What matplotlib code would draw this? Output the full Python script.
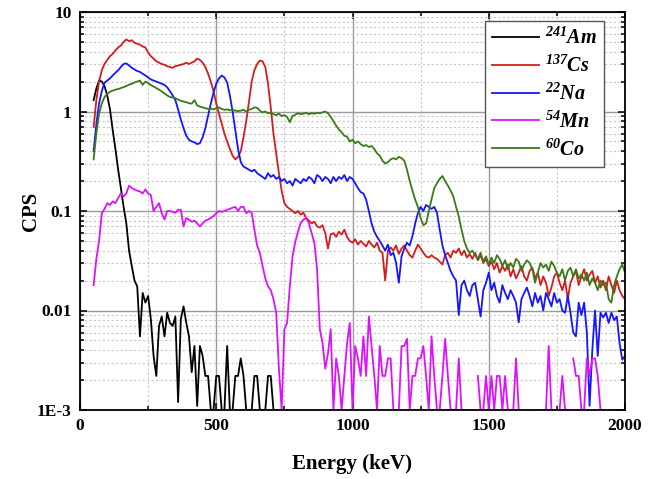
import numpy as np
import matplotlib
matplotlib.use('Agg')
import matplotlib.pyplot as plt
from matplotlib.ticker import FixedLocator, NullFormatter

plt.rcParams['font.family'] = ['Liberation Serif', 'DejaVu Serif']
plt.rcParams['font.weight'] = 'bold'
plt.rcParams['mathtext.fontset'] = 'custom'
plt.rcParams['mathtext.rm'] = 'Liberation Serif:italic:bold'
plt.rcParams['mathtext.it'] = 'Liberation Serif:italic:bold'

# channel energies (keV), 10 keV bins
energy = np.arange(50, 2001, 10)
energy_am = np.arange(50, 721, 10)

am241 = [
    1.3, 1.7, 2.05, 2.0, 1.8, 1.45, 1.05, 0.65, 0.42, 0.26,
    0.17, 0.11, 0.075, 0.04, 0.028, 0.02, 0.0175, 0.0055, 0.015, 0.012,
    0.014, 0.0082, 0.0035, 0.0022, 0.007, 0.0087, 0.0055, 0.0095, 0.0075, 0.007,
    0.0087, 0.0012, 0.0082, 0.011, 0.0075, 0.0055, 0.0024, 0.0044, 0.0011, 0.0044,
    0.0035, 0.0022, 0.0022, 0.001, 0.001, 0.0022, 0.0022, 0.001, 0.001, 0.0044,
    0.001, 0.001, 0.0022, 0.0022, 0.0033, 0.0022, 0.001, 0.001, 0.001, 0.0022,
    0.0022, 0.001, 0.001, 0.001, 0.0022, 0.0022, 0.001, 0.001,
]

cs137 = [
    0.70, 1.3, 2.0, 2.6, 3.0, 3.3, 3.6, 3.8, 4.1, 4.4,
    4.6, 5.0, 5.3, 5.1, 5.2, 4.9, 4.8, 4.7, 4.5, 4.4,
    3.9, 3.6, 3.4, 3.2, 3.1, 3.0, 2.95, 2.85, 2.8, 2.75,
    2.85, 2.9, 2.95, 3.0, 3.1, 3.0, 3.1, 3.2, 3.4, 3.3,
    3.1, 2.8, 2.4, 2.0, 1.6, 1.2, 0.95, 0.75, 0.6, 0.5,
    0.42, 0.36, 0.33, 0.35, 0.40, 0.55, 0.80, 1.25, 2.0, 2.6,
    3.0, 3.25, 3.2, 2.8, 1.9, 1.1, 0.6, 0.38, 0.24, 0.16,
    0.12, 0.11, 0.105, 0.10, 0.095, 0.10, 0.092, 0.096, 0.085, 0.08,
    0.075, 0.078, 0.07, 0.068, 0.072, 0.06, 0.042, 0.058, 0.06, 0.055,
    0.062, 0.058, 0.065, 0.055, 0.050, 0.048, 0.052, 0.046, 0.05, 0.047,
    0.044, 0.05, 0.046, 0.043, 0.048, 0.040, 0.038, 0.020, 0.040, 0.043,
    0.040, 0.045, 0.037, 0.042, 0.045, 0.040, 0.036, 0.034, 0.040, 0.046,
    0.042, 0.038, 0.035, 0.034, 0.036, 0.034, 0.033, 0.031, 0.029, 0.036,
    0.038, 0.034, 0.040, 0.038, 0.042, 0.036, 0.040, 0.034, 0.037, 0.033,
    0.038, 0.032, 0.036, 0.030, 0.033, 0.028, 0.031, 0.026, 0.030, 0.024,
    0.028, 0.025, 0.029, 0.022, 0.026, 0.021, 0.024, 0.028, 0.022, 0.020,
    0.025, 0.027, 0.021, 0.024, 0.018, 0.022, 0.019, 0.014, 0.017, 0.022,
    0.024, 0.019, 0.016, 0.020, 0.013, 0.019, 0.022, 0.025, 0.018, 0.022,
    0.026, 0.020, 0.023, 0.025, 0.019, 0.022, 0.017, 0.020, 0.016, 0.022,
    0.018, 0.015, 0.020, 0.016, 0.014, 0.013,
]

na22 = [
    0.40, 0.75, 1.2, 1.6, 1.95, 2.05, 2.15, 2.3, 2.45, 2.6,
    2.8, 3.0, 3.05, 2.9, 2.75, 2.65, 2.55, 2.5, 2.4, 2.3,
    2.2, 2.1, 2.05, 2.0, 1.95, 1.9, 1.85, 1.75, 1.6, 1.45,
    1.3, 1.05, 0.83, 0.68, 0.57, 0.52, 0.50, 0.49, 0.47, 0.48,
    0.55, 0.68, 0.9, 1.2, 1.55, 1.9, 2.15, 2.3, 2.2, 1.95,
    1.45, 1.0, 0.65, 0.42, 0.31, 0.28, 0.27, 0.26, 0.25, 0.26,
    0.24, 0.23, 0.22, 0.21, 0.24, 0.22, 0.23, 0.21, 0.22, 0.20,
    0.21, 0.19, 0.20, 0.18, 0.21, 0.20, 0.19, 0.21, 0.20, 0.22,
    0.21, 0.19, 0.23, 0.22, 0.20, 0.22, 0.21, 0.19, 0.22, 0.20,
    0.22, 0.21, 0.23, 0.20, 0.22, 0.21, 0.19, 0.17, 0.155, 0.15,
    0.13, 0.10, 0.075, 0.062, 0.055, 0.05, 0.045, 0.04, 0.046, 0.036,
    0.038, 0.030, 0.019, 0.035, 0.042, 0.048, 0.045, 0.056, 0.075, 0.095,
    0.11, 0.10, 0.115, 0.11, 0.105, 0.11, 0.096, 0.065, 0.045, 0.036,
    0.03, 0.025, 0.022, 0.02, 0.009, 0.018, 0.02, 0.016, 0.014, 0.018,
    0.019, 0.013, 0.0087, 0.016, 0.019, 0.024, 0.016, 0.019, 0.014, 0.012,
    0.018, 0.015, 0.013, 0.016, 0.014, 0.012, 0.0076, 0.013, 0.015, 0.017,
    0.014, 0.011, 0.015, 0.012, 0.014, 0.010, 0.015, 0.013, 0.011, 0.015,
    0.012, 0.013, 0.010, 0.0095, 0.014, 0.0095, 0.006, 0.0055, 0.012, 0.009,
    0.012, 0.006, 0.0011, 0.004, 0.010, 0.0035, 0.0095, 0.0085, 0.0095, 0.0075,
    0.0095, 0.008, 0.0087, 0.0047, 0.0032, 0.0035,
]

mn54 = [
    0.018, 0.033, 0.05, 0.095, 0.105, 0.12, 0.115, 0.125, 0.12, 0.135,
    0.15, 0.14, 0.15, 0.18, 0.17, 0.165, 0.16, 0.157, 0.15, 0.165,
    0.15, 0.145, 0.10, 0.11, 0.12, 0.095, 0.082, 0.1, 0.1, 0.098,
    0.096, 0.103, 0.103, 0.07, 0.085, 0.082, 0.078, 0.08, 0.075, 0.07,
    0.075, 0.08, 0.082, 0.085, 0.089, 0.095, 0.1, 0.098, 0.1, 0.103,
    0.105, 0.108, 0.11, 0.1, 0.11, 0.11, 0.095, 0.1, 0.096, 0.065,
    0.045, 0.038, 0.028, 0.021, 0.0175, 0.016, 0.013, 0.0095, 0.0026, 0.001,
    0.0065, 0.0075, 0.0175, 0.035, 0.049, 0.062, 0.076, 0.082, 0.085, 0.075,
    0.06, 0.048, 0.026, 0.0065, 0.0047, 0.0026, 0.0037, 0.0065, 0.001, 0.0033,
    0.0022, 0.001, 0.0022, 0.0047, 0.0075, 0.001, 0.0044, 0.0033, 0.0022, 0.0055,
    0.0022, 0.0087, 0.0044, 0.0022, 0.001, 0.0044, 0.0022, 0.0022, 0.0033, 0.0033,
    0.001, 0.001, 0.001, 0.0044, 0.0044, 0.0052, 0.001, 0.0022, 0.0022, 0.0033,
    0.0033, 0.0044, 0.0022, 0.001, 0.0055, 0.0022, 0.001, 0.001, 0.0022, 0.0052,
    0.0022, 0.001, 0.001, 0.001, 0.0033, 0.001, 0.001, 0, 0.001, 0.001,
    0, 0.0022, 0.001, 0.001, 0.0022, 0.001, 0.0022, 0.001, 0.0022, 0.0022,
    0.001, 0.0022, 0.001, 0.001, 0.001, 0.0033, 0.001, 0, 0, 0,
    0.0022, 0, 0.0022, 0, 0, 0.001, 0.001, 0.0044, 0.001, 0.001,
    0, 0.001, 0.0022, 0.001, 0.001, 0, 0.0033, 0.0022, 0.0022, 0.001,
    0.001, 0.0033, 0.0022, 0.0033, 0.0033, 0.0022, 0.001, 0.001, 0, 0.001,
    0.001, 0.001, 0.001, 0.001, 0.001, 0.001,
]

co60 = [
    0.33, 0.60, 0.95, 1.2, 1.4, 1.5, 1.58, 1.62, 1.66, 1.68,
    1.72, 1.76, 1.80, 1.86, 1.9, 1.96, 2.0, 2.05, 1.85, 2.0,
    1.93, 1.85, 1.78, 1.72, 1.66, 1.59, 1.52, 1.45, 1.40, 1.38,
    1.36, 1.32, 1.28, 1.26, 1.24, 1.21, 1.2, 1.3, 1.15, 1.12,
    1.10, 1.08, 1.06, 1.07, 1.05, 1.08, 1.10, 1.06, 1.04, 1.05,
    1.03, 1.04, 1.02, 1.01, 1.02, 1.04, 1.0, 1.04, 1.06, 1.1,
    1.09, 1.02, 0.98, 1.0, 0.96, 0.97, 0.94, 0.92, 0.95, 0.90,
    0.92, 0.88, 0.78, 0.90, 0.93, 0.96, 0.94, 0.95, 0.97, 0.94,
    0.96, 0.95, 0.97, 0.96, 0.98, 1.0, 0.96, 0.88, 0.80, 0.72,
    0.66, 0.62, 0.57, 0.56, 0.50, 0.52, 0.48, 0.50, 0.47, 0.45,
    0.46, 0.44, 0.45, 0.42, 0.38, 0.36, 0.32, 0.30, 0.31, 0.33,
    0.34, 0.33, 0.35, 0.34, 0.32, 0.26, 0.20, 0.16, 0.13, 0.11,
    0.085, 0.072, 0.075, 0.10, 0.13, 0.17, 0.19, 0.21, 0.225, 0.20,
    0.18, 0.16, 0.14, 0.11, 0.088, 0.065, 0.05, 0.042, 0.038, 0.040,
    0.036, 0.033, 0.038, 0.031, 0.035, 0.029, 0.034, 0.030, 0.036, 0.033,
    0.028, 0.032, 0.026, 0.030, 0.027, 0.033, 0.031, 0.025, 0.029, 0.032,
    0.030, 0.026, 0.019, 0.024, 0.030, 0.027, 0.029, 0.025, 0.031, 0.028,
    0.024, 0.022, 0.026, 0.020, 0.025, 0.027, 0.022, 0.026, 0.021, 0.023,
    0.020, 0.024, 0.018, 0.021, 0.019, 0.016, 0.020, 0.018, 0.019, 0.013,
    0.012, 0.018, 0.022, 0.026, 0.029, 0.024,
]

series = [
    (energy_am, am241, r'$^{241}Am$', 'black'),
    (energy, cs137, r'$^{137}Cs$', '#d41c1c'),
    (energy, na22, r'$^{22}Na$', '#1515ff'),
    (energy, mn54, r'$^{54}Mn$', '#dd11ff'),
    (energy, co60, r'$^{60}Co$', '#3b7a18'),
]

fig = plt.figure(figsize=(6.54, 4.79), dpi=100)
ax = fig.add_axes([80 / 654, 1 - 410 / 479, 545 / 654, 398 / 479])

for e, vals, label, color in series:
    v = np.asarray(vals, dtype=float)
    v = np.where(v > 0, v, np.nan)
    ax.plot(e, v, color=color, lw=1.3, label=label)

ax.set_yscale('log')
ax.set_xlim(0, 2000)
ax.set_ylim(1e-3, 10)

ax.xaxis.set_major_locator(FixedLocator([0, 500, 1000, 1500, 2000]))
ax.xaxis.set_minor_locator(FixedLocator([250, 750, 1250, 1750]))
ax.set_yticks([1e-3, 1e-2, 1e-1, 1, 10])
ax.set_yticklabels(['1E-3', '0.01', '0.1', '1', '10'])
ax.yaxis.set_minor_locator(FixedLocator(
    [m * 10.0 ** k for k in range(-3, 1) for m in range(2, 10)]))
ax.yaxis.set_minor_formatter(NullFormatter())

ax.grid(which='major', color='#9a9a9a', lw=1.0, ls='-')
ax.grid(which='minor', color='#c8c8c8', lw=0.8, ls=(0, (2, 2)))
ax.set_axisbelow(True)

ax.tick_params(which='both', direction='in', top=True, right=True,
               labelsize=12.5, width=1.1, pad=6)
ax.tick_params(which='major', length=5)
ax.tick_params(which='minor', length=3)
for s in ax.spines.values():
    s.set_linewidth(1.3)

ax.set_xlabel('Energy (keV)', fontsize=15, fontweight='bold', labelpad=14)
ax.set_ylabel('CPS', fontsize=15, fontweight='bold', labelpad=-3)

leg = ax.legend(loc='upper right', bbox_to_anchor=(0.961, 0.978), fontsize=14.5,
                fancybox=False, framealpha=1, edgecolor='#555555',
                handlelength=2.3, handletextpad=0.3, labelspacing=0.33,
                borderpad=0.35, borderaxespad=0.0)
leg.get_frame().set_linewidth(1.0)

fig.savefig('out.png', dpi=100)
